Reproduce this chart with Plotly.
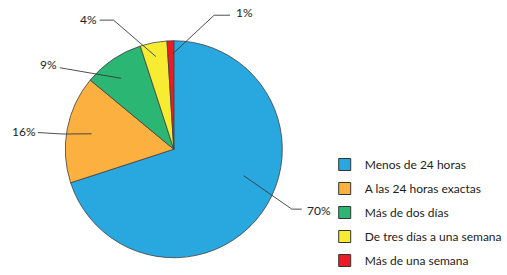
import math
import plotly.graph_objects as go

# ---- data ----
categories = ["Menos de 24 horas", "A las 24 horas exactas", "Más de dos días",
              "De tres días a una semana", "Más de una semana"]
values = [70, 16, 9, 4, 1]
colors = ["#29A8E0", "#FBB040", "#2BB673", "#F7EC32", "#ED1C24"]

# ---- layout / style (pixels) ----
W, H = 507, 275
CX, CY, R = 174.5, 152.0, 110.5
FONT = "Lato"
FS = 12
LINE_COL = "#3a3a3a"

# per-slice label style: anchor radius fraction, angle shift (deg), elbow pts, text pos, anchor side
label_style = [
    dict(frac=0.68, dang=-15, pts=[(293, 213), (303, 213)], text=(306, 214), side="left"),
    dict(frac=0.76, dang=0, pts=[(63, 136.5), (38, 135)], text=(38, 134), side="right"),
    dict(frac=0.81, dang=-2, pts=[(60, 69)], text=(59, 66), side="right"),
    dict(frac=0.87, dang=0, pts=[(114, 20.5), (100, 20.5)], text=(99, 20), side="right"),
    dict(frac=0.88, dang=1.2, pts=[(215, 15.5), (231, 15.5)], text=(235, 12.5), side="left"),
]


def px2paper(x, y):
    return x / W, 1 - y / H


fig = go.Figure()
fig.add_trace(go.Pie(
    labels=categories, values=values, sort=False, direction="clockwise", rotation=0,
    marker=dict(colors=colors, line=dict(color="#404040", width=0.8)),
    textinfo="none", hoverinfo="label+percent", showlegend=False,
    domain=dict(x=[(CX - R) / W, (CX + R) / W], y=[1 - (CY + R) / H, 1 - (CY - R) / H]),
))

# legend entries (one group each so spacing can be set)
for cat, col in zip(categories, colors):
    fig.add_trace(go.Scatter(
        x=[None], y=[None], mode="markers", name=cat, legendgroup=cat,
        marker=dict(symbol="square", size=12, color=col, line=dict(color="#333", width=1)),
    ))

# leader lines + labels computed from slice angles
total = sum(values)
cum = 0
shapes, annos = [], []
for v, st in zip(values, label_style):
    mid = (cum + v / 2) / total * 360 + st["dang"]
    cum += v
    ax = CX + math.sin(math.radians(mid)) * R * st["frac"]
    ay = CY - math.cos(math.radians(mid)) * R * st["frac"]
    pts = [(ax, ay)] + st["pts"]
    path = ""
    for i, (x, y) in enumerate(pts):
        px, py = px2paper(x, y)
        path += ("M" if i == 0 else "L") + f"{px:.5f},{py:.5f}"
    shapes.append(dict(type="path", xref="paper", yref="paper", path=path,
                       line=dict(color=LINE_COL, width=0.9)))
    tx, ty = px2paper(*st["text"])
    annos.append(dict(x=tx, y=ty, xref="paper", yref="paper", text=f"{v}%", showarrow=False,
                      xanchor=st["side"], yanchor="middle",
                      font=dict(family=FONT, size=FS, color="#222")))

fig.update_layout(
    width=W, height=H, margin=dict(l=0, r=0, t=0, b=0),
    paper_bgcolor="white", plot_bgcolor="white",
    xaxis=dict(visible=False), yaxis=dict(visible=False),
    shapes=shapes, annotations=annos,
    legend=dict(x=326 / W, y=1 - 153 / H, xanchor="left", yanchor="top",
                traceorder="grouped", tracegroupgap=5,
                font=dict(family=FONT, size=FS, color="#222"),
                bgcolor="rgba(0,0,0,0)"),
)

fig.write_html("out.html", config={"displayModeBar": False},
               post_script="document.body.style.margin='0';")
